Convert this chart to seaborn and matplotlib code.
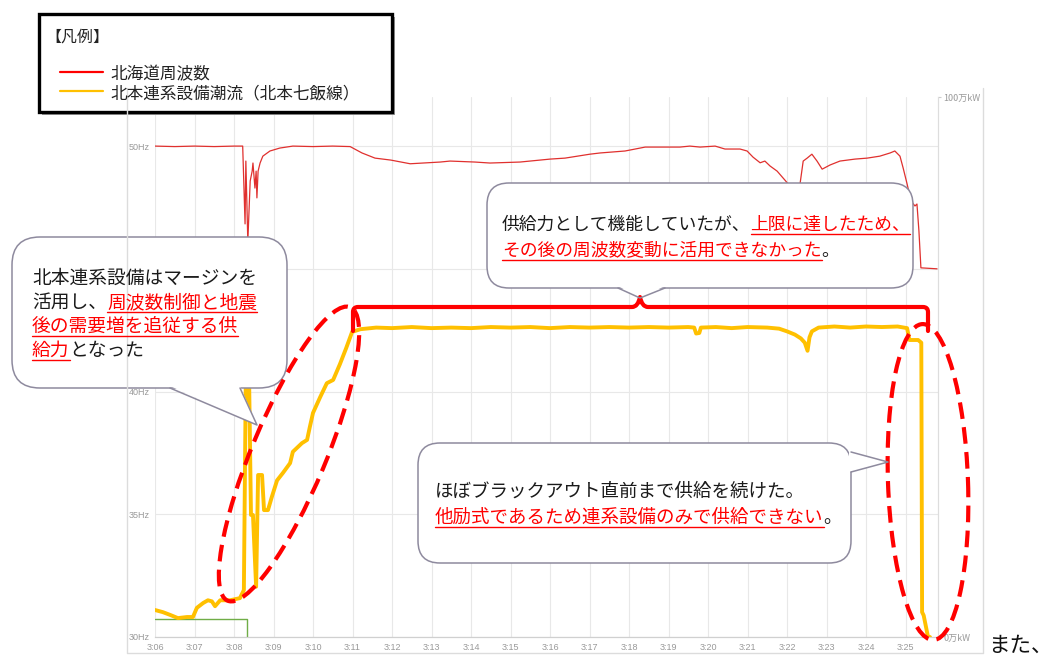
import numpy as np
import pandas as pd
import matplotlib
matplotlib.use("Agg")
import matplotlib.pyplot as plt
import seaborn as sns
from matplotlib.patches import FancyBboxPatch, Polygon, Ellipse, Rectangle, PathPatch
from matplotlib.path import Path

W, H = 1057, 657

# minutes after 3:00
freq_t = [6.0, 6.5, 7.0, 7.5, 8.0, 8.22, 8.28, 8.30, 8.35, 8.41, 8.46, 8.48, 8.53, 8.56,
          8.58, 8.61, 8.66, 8.73, 8.91, 9.16, 9.49, 10.0, 10.5, 10.94, 11.24, 11.57, 11.97,
          12.46, 13.22, 13.47, 14.10, 14.48, 15.24, 16.0, 16.38, 17.01, 17.27, 17.9, 18.41,
          19.29, 19.54, 19.80, 20.18, 20.43, 20.81, 20.99, 21.14, 21.32, 21.44, 21.57, 21.75,
          22.03, 22.2, 22.33, 22.41, 22.51, 22.63, 22.76, 22.89, 23.09, 23.34, 23.72, 24.03,
          24.35, 24.61, 24.73, 24.86, 24.94, 25.04, 25.14, 25.24, 25.29, 25.34, 25.39, 25.80]
freq_hz = [50.0, 49.98, 50.0, 49.98, 50.0, 50.0, 46.83, 49.39, 46.1, 48.58, 48.98, 49.31,
           48.29, 48.98, 47.89, 48.98, 49.31, 49.59, 49.80, 49.92, 50.0, 49.98, 50.0, 49.98,
           49.72, 49.51, 49.43, 49.28, 49.35, 49.39, 49.35, 49.31, 49.35, 49.47, 49.51, 49.67,
           49.72, 49.80, 49.96, 49.96, 50.0, 49.96, 50.0, 49.88, 49.88, 49.80, 49.55, 49.32,
           49.39, 49.19, 48.98, 48.46, 47.76, 48.46, 49.39, 49.51, 49.67, 49.39, 49.06, 49.23,
           49.39, 49.47, 49.51, 49.59, 49.72, 49.80, 49.59, 49.11, 48.46, 47.76, 47.56, 47.64,
           46.54, 45.04, 45.0]

# 北本連系設備潮流 (万kW)
flow_t = [6.0, 6.2, 6.38, 6.58, 6.81, 6.96, 7.06, 7.22, 7.34, 7.44, 7.52, 7.65, 7.90, 8.15,
          8.25, 8.30, 8.38, 8.43, 8.48, 8.56, 8.61, 8.71, 8.76, 8.86, 8.96, 9.09, 9.24, 9.42,
          9.49, 9.72, 9.85, 9.92, 10.0, 10.18, 10.35, 10.51, 10.68, 10.84, 10.99, 11.2, 11.6,
          12.0, 12.5, 13.0, 13.5, 14.0, 14.5, 15.0, 15.5, 16.0, 16.5, 17.0, 17.5, 18.0, 18.5,
          19.0, 19.5, 19.65, 19.7, 19.78, 19.82, 20.2, 20.6, 21.0, 21.5, 21.8, 22.0, 22.2,
          22.35, 22.45, 22.52, 22.57, 22.63, 22.8, 23.2, 23.6, 24.0, 24.4, 24.8, 25.04, 25.10,
          25.32, 25.40, 25.42, 25.46, 25.57, 25.62]
flow_mw = [5.0, 4.6, 4.1, 3.5, 3.7, 3.7, 5.4, 6.3, 6.8, 6.6, 5.7, 6.8, 6.8, 7.2,
           8.7, 49.0, 49.0, 22.6, 22.6, 9.3, 30.0, 30.0, 23.5, 23.5, 26.0, 29.0, 30.4, 32.2,
           34.3, 35.9, 36.5, 38.9, 41.5, 44.4, 47.0, 47.6, 50.5, 53.5, 56.5, 57.0, 57.3,
           57.2, 57.4, 57.2, 57.3, 57.2, 57.4, 57.3, 57.4, 57.2, 57.4, 57.3, 57.4, 57.3, 57.4,
           57.3, 57.4, 57.3, 56.2, 56.3, 57.3, 57.4, 57.2, 57.4, 57.3, 57.1, 56.6, 56.0,
           55.3, 54.5, 53.0, 55.5, 56.6, 57.3, 57.5, 57.3, 57.5, 57.4, 57.5, 57.2, 55.0,
           55.0, 54.5, 4.6, 4.0, 0.0, 0.0]

green_t = [6.0, 8.32, 8.32]
green_v = [3.3, 3.3, 0.0]

minute_ticks = list(range(6, 26))
minute_labels = ["3:%02d" % m for m in minute_ticks]
hz_ticks = [30, 35, 40, 45, 50]
# 45Hz label sits under the left callout in the reference
hz_labels = ["30Hz", "35Hz", "40Hz", "", "50Hz"]

RED = "#ff0000"
YEL = "#ffc000"
EDGE = "#8e8a9e"
JP = ["Noto Sans CJK JP", "DejaVu Sans"]

sns.set_style("white")
plt.rcParams["font.family"] = JP

fig = plt.figure(figsize=(W / 100, H / 100), dpi=100)
ax = fig.add_axes([155 / W, (H - 637) / H, 783 / W, 540 / H])
ax2 = ax.twinx()

sns.lineplot(x=freq_t, y=freq_hz, ax=ax, color="#e0302e", lw=0.9,
             estimator=None, sort=False, legend=False)
sns.lineplot(x=green_t, y=green_v, ax=ax2, color="#70ad47", lw=1.0,
             estimator=None, sort=False, legend=False)
sns.lineplot(x=flow_t, y=flow_mw, ax=ax2, color=YEL, lw=2.8,
             estimator=None, sort=False, legend=False)

ax.set_xlim(6, 6 + 783 / 39.5)
ax.set_ylim(30, 52)
ax2.set_ylim(0, 100)
ax.set_xticks(minute_ticks)
ax.set_xticklabels(minute_labels, family="Liberation Sans", fontsize=6.5, color="#999999")
ax.set_yticks(hz_ticks)
ax.set_yticklabels(hz_labels, family="Liberation Sans", fontsize=6.5, color="#999999")
ax.tick_params(length=0, pad=4)
ax.grid(True, color="#e8e8e8", lw=0.8)
ax.set_axisbelow(True)
ax2.set_yticks([0, 100])
ax2.set_yticklabels(["0万kW", "100万kW"], fontsize=6.5, color="#999999")
ax2.tick_params(length=2, color="#cccccc", pad=2)
for a in (ax, ax2):
    for s in ("top", "left"):
        a.spines[s].set_visible(False)
    a.spines["bottom"].set_color("#d0d0d0")
    a.spines["right"].set_color("#dddddd")
ax.set_xlabel("")
ax.set_ylabel("")
ax2.set_ylabel("")

# overlay in pixel coordinates
ov = fig.add_axes([0, 0, 1, 1])
ov.set_xlim(0, W)
ov.set_ylim(H, 0)
ov.axis("off")
ov.set_zorder(5)

# outer frame
ov.plot([127, 127, 983, 983], [88, 653, 653, 88], color="#dcdcdc", lw=1)

# legend box
ov.add_patch(Rectangle((42, 17), 353, 98, facecolor="#9a9a9a", edgecolor="none"))
ov.add_patch(Rectangle((39, 14), 353, 98, facecolor="white", edgecolor="black", lw=2.4))
ov.text(45, 42, "【凡例】", fontsize=11.5, va="baseline", color="#222222")
ov.plot([60, 103], [72, 72], color=RED, lw=1.6)
ov.plot([60, 103], [91, 91], color=YEL, lw=1.6)
ov.text(110, 79, "北海道周波数", fontsize=12, va="baseline", color="#222222")
ov.text(110, 98, "北本連系設備潮流（北本七飯線）", fontsize=12, va="baseline", color="#222222")

renderer = fig.canvas.get_renderer()


def callout(x0, y0, x1, y1, r, base, tip):
    ov.add_patch(FancyBboxPatch((x0, y0), x1 - x0, y1 - y0,
                                boxstyle="round,pad=0,rounding_size=%d" % r,
                                facecolor="white", edgecolor=EDGE, lw=1.1))
    (ax_, ay_), (bx_, by_) = base
    if ay_ == by_:
        cover = [(ax_, ay_ - 2), (bx_, by_ - 2), tip]
    else:
        cover = [(ax_ - 2, ay_), (bx_ - 2, by_), tip]
    ov.add_patch(Polygon(cover, closed=True, facecolor="white", edgecolor="none"))
    ov.plot([ax_, tip[0], bx_], [ay_, tip[1], by_], color=EDGE, lw=1.1)


def rich_lines(x, baselines, lines, size):
    for y, parts in zip(baselines, lines):
        cx = x
        for s, red in parts:
            t = ov.text(cx, y, s, fontsize=size, va="baseline", ha="left",
                        color=RED if red else "#1a1a1a")
            w = t.get_window_extent(renderer).width
            if red:
                ov.plot([cx, cx + w], [y + 4, y + 4], color=RED, lw=1)
            cx += w


callout(12, 237, 287, 388, 28, ((170, 388), (240, 388)), (257, 425))
rich_lines(32, [284, 308, 332, 356], [
    [("北本連系設備はマージンを", False)],
    [("活用し、", False), ("周波数制御と地震", True)],
    [("後の需要増を追従する供", True)],
    [("給力", True), ("となった", False)],
], 13.5)

callout(487, 183, 913, 288, 22, ((618, 288), (665, 288)), (640, 298))
rich_lines(502, [230, 256], [
    [("供給力として機能していたが、", False), ("上限に達したため、", True)],
    [("その後の周波数変動に活用できなかった", True), ("。", False)],
], 12.8)

callout(418, 443, 851, 563, 22, ((851, 452), (851, 472)), (888, 462))
rich_lines(435, [497, 523], [
    [("ほぼブラックアウト直前まで供給を続けた。", False)],
    [("他励式であるため連系設備のみで供給できない", True), ("。", False)],
], 13.3)

# red bracket
verts = [(353, 331), (353, 312), (353, 307), (358, 307), (632, 307), (638, 307), (640, 297),
         (642, 307), (648, 307), (923, 307), (928, 307), (928, 312), (928, 331)]
codes = [Path.MOVETO, Path.LINETO, Path.CURVE3, Path.CURVE3, Path.LINETO, Path.CURVE3,
         Path.CURVE3, Path.CURVE3, Path.CURVE3, Path.LINETO, Path.CURVE3, Path.CURVE3,
         Path.LINETO]
ov.add_patch(PathPatch(Path(verts, codes), facecolor="none", edgecolor=RED, lw=3,
                       capstyle="round", joinstyle="round"))

# dashed ellipses
ov.add_patch(Ellipse((289, 454), 318, 74, angle=np.degrees(np.arctan2(-292, 122)),
                     facecolor="none", edgecolor=RED, lw=3, linestyle=(0, (4, 2))))
ov.add_patch(Ellipse((928, 482), 316, 80, angle=np.degrees(np.arctan2(313, 11)),
                     facecolor="none", edgecolor=RED, lw=3, linestyle=(0, (4, 2))))

ov.text(988, 652, "また、", fontsize=15.5, va="baseline", color="#111111")

fig.savefig("out.png", dpi=100, facecolor="white")
